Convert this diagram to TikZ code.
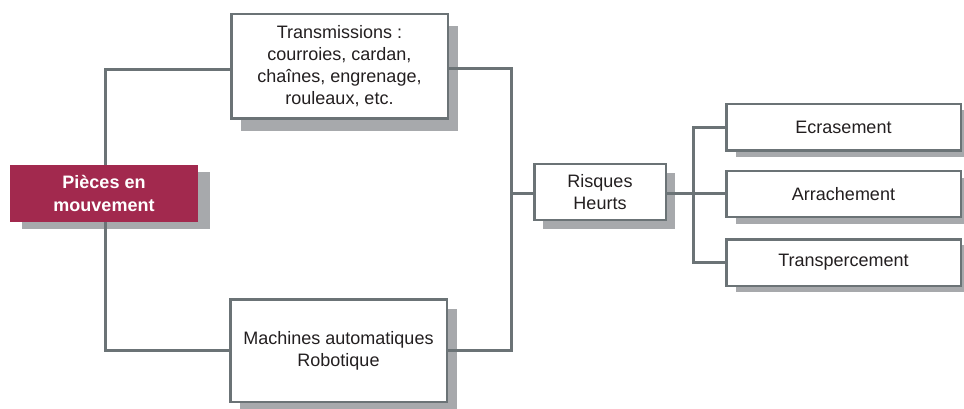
\documentclass[tikz,border=0pt]{standalone}
\usepackage{fontspec}
\setmainfont{Liberation Sans}
\definecolor{linegray}{HTML}{6B7376}
\definecolor{shadowgray}{HTML}{A7A9AC}
\definecolor{crimson}{HTML}{A2294E}
\definecolor{inkc}{HTML}{231F20}
\tikzset{
  box/.style={draw=linegray, line width=2.5pt, fill=white, inner sep=0pt, outer sep=0pt,
    align=center, text=inkc, font=\fontsize{18}{22}\selectfont},
  dropsh/.style={preaction={fill=shadowgray, transform canvas={shift={#1}}}},
  link/.style={draw=linegray, line width=3pt, line join=miter}
}
\begin{document}
\begin{tikzpicture}[x=1pt, y=-1pt]
  \useasboundingbox (0,0) rectangle (964,409);
  \clip (0,0) rectangle (964,409);

  % root node
  \node[fill=crimson, inner sep=0pt, outer sep=0pt, minimum width=188pt, minimum height=57pt,
        align=center, text=white, font=\bfseries\fontsize{18}{23}\selectfont,
        dropsh={(12pt,-7pt)}] (P) at (104,193.5) {Pièces en\\mouvement};

  % sources
  \node[box, minimum width=216.5pt, minimum height=104.5pt, dropsh={(10pt,-12pt)}]
    (T) at (339.5,66.5) {Transmissions :\\courroies, cardan,\\chaînes, engrenage,\\rouleaux, etc.};
  \node[box, minimum width=216.5pt, minimum height=102.5pt, dropsh={(10pt,-10pt)}]
    (M) at (338.5,350.5) {Machines automatiques\\Robotique};

  % central risk
  \node[box, minimum width=131.5pt, minimum height=55.5pt, dropsh={(9pt,-9pt)}]
    (R) at (600,192) {Risques\\Heurts};

  % consequences
  \node[box, minimum width=234.5pt, minimum height=46.5pt, dropsh={(10pt,-6pt)}]
    (E) at (843.5,127.5) {Ecrasement};
  \node[box, minimum width=234.5pt, minimum height=45.5pt, dropsh={(10pt,-7pt)}]
    (A) at (843.5,194) {Arrachement};
  \node[box, minimum width=234.5pt, minimum height=46.5pt, dropsh={(10pt,-6pt)}]
    (X) at (843.5,262.5) {Transpercement};

  % junction points
  \coordinate (hubL) at (511,193);
  \coordinate (hubR) at (693,193);

  % connectors
  \draw[link] (P.north -| 105,0) |- ([yshift=-3pt]T.west);
  \draw[link] (P.south -| 105,0) |- (M.west);
  \draw[link] ([yshift=-2.5pt]T.east) -| (hubL) |- (M.east);
  \draw[link] (hubL) -- (hubL -| R.west);
  \draw[link] (hubL -| R.east) -- (hubR);
  \draw[link] (E.west) -| (hubR) |- (X.west);
  \draw[link] (hubR) -- (hubR -| A.west);
\end{tikzpicture}
\end{document}
